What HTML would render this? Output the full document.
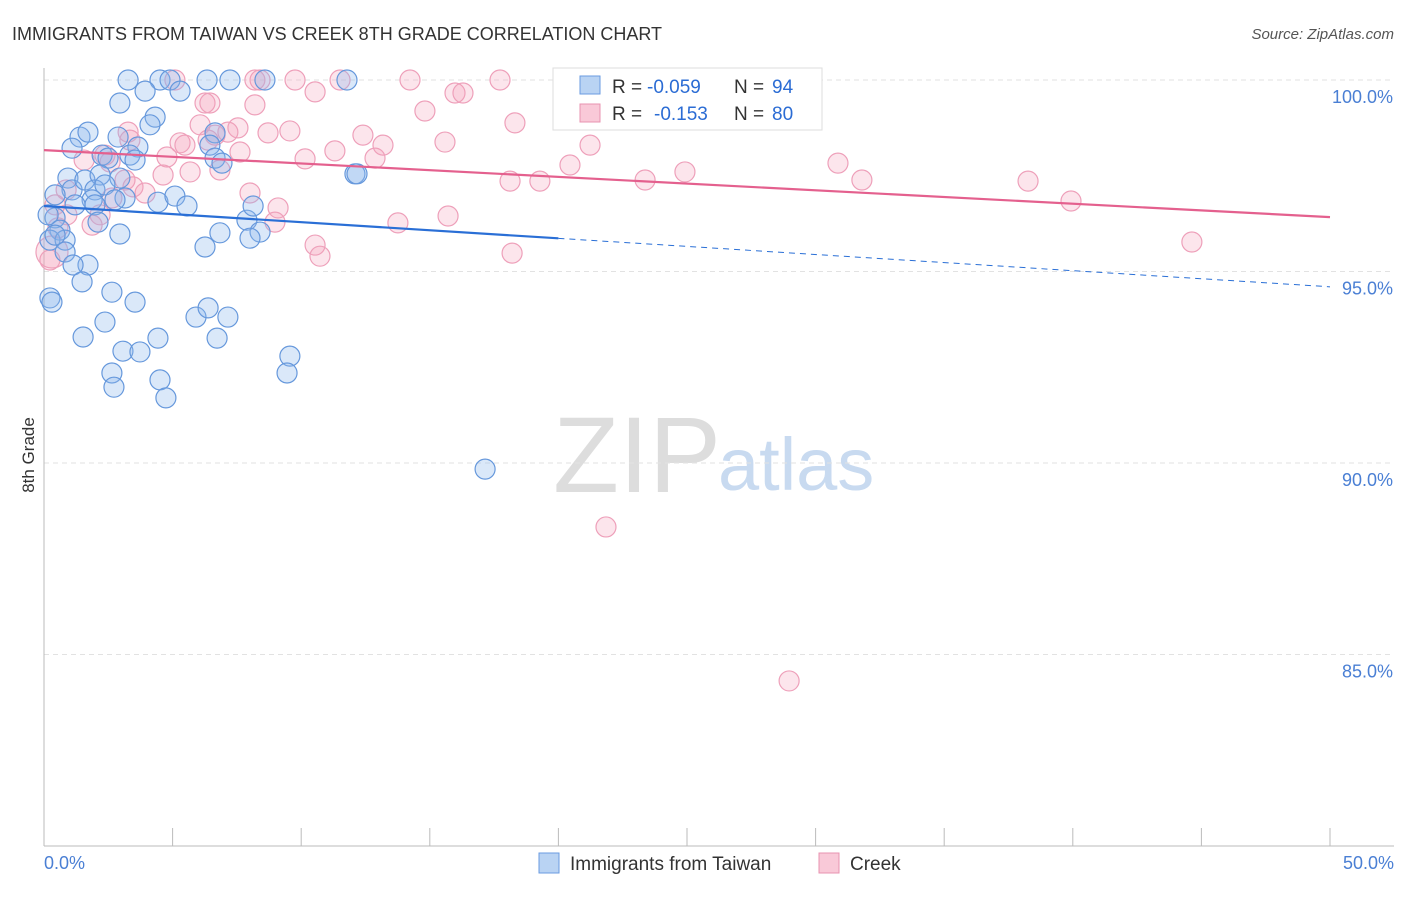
<!DOCTYPE html>
<html><head><meta charset="utf-8">
<style>
body{margin:0;background:#fff;font-family:"Liberation Sans",sans-serif;}
svg text{font-family:"Liberation Sans",sans-serif;}
</style></head>
<body>
<svg id="chart" width="1406" height="892" xmlns="http://www.w3.org/2000/svg">
<text x="12" y="40" font-size="18" fill="#333">IMMIGRANTS FROM TAIWAN VS CREEK 8TH GRADE CORRELATION CHART</text>
<text x="1394" y="39" font-size="15" fill="#555" font-style="italic" text-anchor="end">Source: ZipAtlas.com</text>
<g>
<text x="553" y="492" font-size="108" fill="#ddd" font-family="Liberation Serif">ZIP</text>
<text x="718" y="490" font-size="74" fill="#c8daf0">atlas</text>
</g>
<g id="grid"></g>
<g id="axes"></g>
<g id="pts"></g>
<g id="trends"></g>
<text transform="translate(34,455) rotate(-90)" font-size="17" fill="#333" text-anchor="middle">8th Grade</text>
<text x="44" y="869" font-size="18" fill="#4a7fd4">0.0%</text>
<text x="1394" y="869" font-size="18" fill="#4a7fd4" text-anchor="end">50.0%</text>
<g>
<rect x="553" y="68" width="269" height="62" fill="#fff" stroke="#ddd"/>
<rect x="580" y="76" width="20" height="18" fill="#b9d3f3" stroke="#6a9be0"/>
<text x="612" y="93" font-size="19" fill="#333">R =</text>
<text x="647" y="93" font-size="19" fill="#2b6cd4">-0.059</text>
<text x="734" y="93" font-size="19" fill="#333">N =</text>
<text x="772" y="93" font-size="19" fill="#2b6cd4">94</text>
<rect x="580" y="104" width="20" height="18" fill="#f9c9d8" stroke="#e893b0"/>
<text x="612" y="120" font-size="19" fill="#333">R =</text>
<text x="654" y="120" font-size="19" fill="#2b6cd4">-0.153</text>
<text x="734" y="120" font-size="19" fill="#333">N =</text>
<text x="772" y="120" font-size="19" fill="#2b6cd4">80</text>
</g>
<g>
<rect x="539" y="853" width="20" height="20" fill="#b9d3f3" stroke="#6a9be0"/>
<text x="570" y="870" font-size="19" fill="#333">Immigrants from Taiwan</text>
<rect x="819" y="853" width="20" height="20" fill="#f9c9d8" stroke="#e893b0"/>
<text x="850" y="870" font-size="19" fill="#333">Creek</text>
</g>
</svg>
<script>
const yTicks=[100,95,90,85];
const yTickLabels=["100.0%","95.0%","90.0%","85.0%"];
const blueX=[3.27,4.51,4.90,6.34,7.23,8.59,11.78,5.29,3.93,2.95,4.32,4.12,1.40,1.71,2.88,6.65,6.45,1.09,3.65,3.34,2.26,2.49,3.54,6.65,6.92,0.93,1.09,1.59,2.18,1.98,2.95,2.37,1.87,1.21,0.43,3.15,2.76,4.43,5.09,5.56,1.98,0.43,0.16,0.62,0.23,0.82,0.43,2.10,2.95,7.89,8.13,6.84,8.40,8.01,6.26,0.82,1.71,1.13,1.48,0.23,0.31,2.64,3.54,2.37,1.52,3.07,3.73,4.43,5.91,6.38,7.15,6.73,2.64,2.72,4.51,4.74,9.56,9.45,17.15,12.09,12.17];
const blueY=[100,100,100,100,100,100,100,99.71,99.71,99.40,99.03,98.83,98.51,98.64,98.51,98.62,98.30,98.22,98.25,98.04,98.04,97.96,97.91,97.96,97.83,97.44,97.13,97.39,97.52,97.13,97.44,97.26,96.87,96.74,97.00,96.92,96.87,96.81,96.97,96.71,96.74,96.40,96.48,96.08,95.82,95.82,95.95,96.29,95.98,96.34,96.71,96.01,96.03,95.87,95.64,95.51,95.17,95.17,94.73,94.31,94.20,94.46,94.20,93.68,93.29,92.92,92.90,93.26,93.81,94.05,93.81,93.26,92.35,91.98,92.17,91.70,92.79,92.35,89.84,97.55,97.55];
const pinkX=[5.09,8.20,8.40,9.76,11.51,14.23,17.73,22.78,10.54,15.98,16.29,6.26,6.45,8.20,14.81,18.31,6.07,6.65,7.54,7.15,8.71,9.56,12.40,15.59,21.23,3.27,3.34,5.29,5.48,6.38,2.37,7.62,10.15,11.31,12.87,13.18,4.78,1.56,2.57,5.68,6.84,3.15,3.46,3.93,4.63,8.01,9.10,8.98,20.45,19.28,23.37,24.92,30.87,31.80,38.26,39.93,44.63,18.12,13.76,15.71,10.54,10.73,18.20,0.31,0.23,0.54,0.89,2.18,1.87,0.43,21.85,28.97,2.64,0.86];
const pinkY=[100,100,100,100,100,100,100,100,99.69,99.66,99.66,99.40,99.40,99.35,99.19,98.88,98.83,98.56,98.75,98.64,98.62,98.67,98.56,98.38,98.30,98.64,98.43,98.36,98.30,98.43,98.04,98.12,97.94,98.15,97.96,98.30,97.99,97.91,97.86,97.60,97.65,97.39,97.21,97.05,97.52,97.05,96.66,96.29,97.78,97.36,97.39,97.60,97.83,97.39,97.36,96.84,95.77,97.36,96.27,96.45,95.69,95.40,95.48,95.51,95.30,96.14,96.48,96.48,96.21,96.74,88.33,84.31,96.92,97.13];
const blueTrend=[96.71,94.6];
const pinkTrend=[98.17,96.42];
const NS="http://www.w3.org/2000/svg";
const xs=v=>44+v/50*1286;
const ys=v=>80+(100-v)*38.3;
function mk(t,a,p){const e=document.createElementNS(NS,t);for(const k in a)e.setAttribute(k,a[k]);p.appendChild(e);return e;}
const grid=document.getElementById('grid');
yTicks.forEach((t,i)=>{
 const l=mk('line',{x1:44,x2:1394,y1:ys(t),y2:ys(t),stroke:'#e2e2e2','stroke-dasharray':'5,4'},grid);
 
 
 const tx=mk('text',{x:1393,y:ys(t)+23,'font-size':18,fill:'#4a7fd4','text-anchor':'end'},grid);
 tx.textContent=yTickLabels[i];
 
 
});
const axes=document.getElementById('axes');
const ya=mk('line',{x1:44,x2:44,y1:68,y2:846,stroke:'#bbb'},axes);


const xa=mk('line',{x1:44,x2:1394,y1:846,y2:846,stroke:'#bbb'},axes);


for(let i=0;i<=10;i++){const t=mk('line',{x1:xs(i*5),x2:xs(i*5),y1:828,y2:846,stroke:'#bbb'},axes);
 
 }
const pts=document.getElementById('pts');
pinkX.forEach((x,i)=>{const c=mk('circle',{cx:xs(x),cy:ys(pinkY[i]),r:(i==63?16:10),fill:'rgba(244,160,188,0.28)',stroke:'#eea0ba','stroke-width':1.2},pts);
 
 });
blueX.forEach((x,i)=>{const c=mk('circle',{cx:xs(x),cy:ys(blueY[i]),r:10,fill:'rgba(140,185,235,0.32)',stroke:'#6698dc','stroke-width':1.2},pts);
 
 });
const tr=document.getElementById('trends');
const bAt=x=>blueTrend[0]+(blueTrend[1]-blueTrend[0])*x/50;
const b1=mk('line',{x1:xs(0),y1:ys(bAt(0)),x2:xs(20),y2:ys(bAt(20)),stroke:'#2a6fd6','stroke-width':2.2},tr);


const b2=mk('line',{x1:xs(20),y1:ys(bAt(20)),x2:xs(50),y2:ys(bAt(50)),stroke:'#2a6fd6','stroke-width':1,'stroke-dasharray':'6,5'},tr);


const p1=mk('line',{x1:xs(0),y1:ys(pinkTrend[0]),x2:xs(50),y2:ys(pinkTrend[1]),stroke:'#e4608e','stroke-width':2.2},tr);


</script>
</body></html>
